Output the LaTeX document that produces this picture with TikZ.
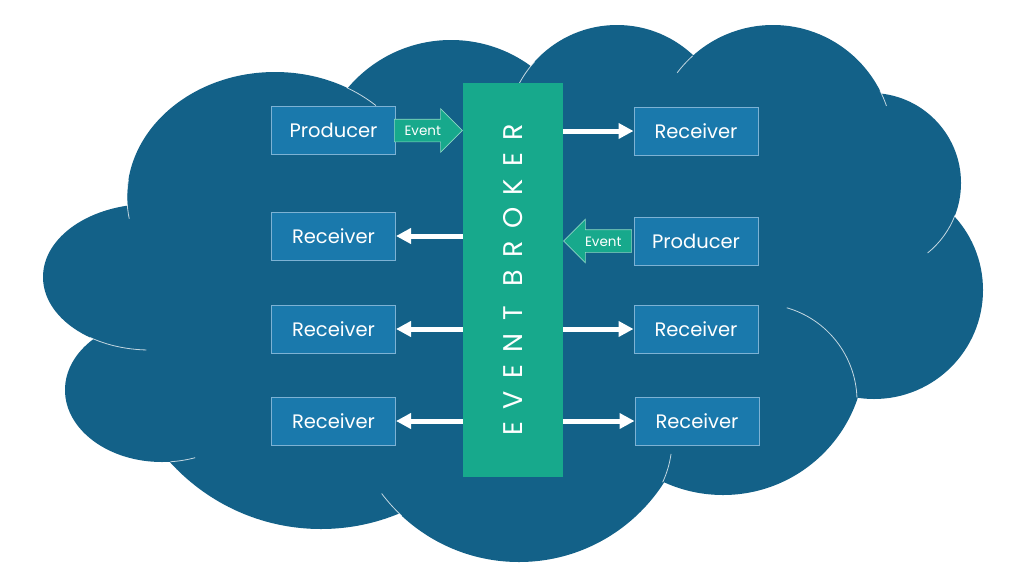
\documentclass[tikz,border=0pt]{standalone}
\usepackage{fontspec}
\setmainfont{Poppins}
\usetikzlibrary{calc,positioning,shapes.arrows,arrows.meta}

\definecolor{cloudblue}{RGB}{19,97,136}
\definecolor{boxblue}{RGB}{26,121,172}
\definecolor{boxedge}{RGB}{125,178,212}
\definecolor{brokergreen}{RGB}{23,169,140}
\definecolor{eventedge}{RGB}{140,215,195}

\begin{document}
\begin{tikzpicture}[
    x=1pt, y=-1pt,
    cloud/.style={fill=cloudblue},
    seam/.style={draw=white, line width=0.8pt, opacity=0.75},
    comp/.style={rectangle, fill=boxblue, draw=boxedge, line width=1pt,
      minimum width=124pt, minimum height=48pt, inner sep=0pt,
      text=white, font=\fontsize{19.5}{22}\selectfont},
    bar/.style={rectangle, fill=brokergreen, minimum width=100pt,
      minimum height=394pt, inner sep=0pt, text=white,
      font=\fontsize{27}{30}\selectfont},
    evt/.style={single arrow, fill=brokergreen, draw=eventedge, line width=0.6pt,
      minimum height=68pt, single arrow head extend=10.5pt,
      single arrow tip angle=90, inner xsep=2pt, inner ysep=6pt,
      text height=10pt, text depth=0pt, text=white, anchor=tip,
      font=\fontsize{13.5}{15}\selectfont},
    flow/.style={white, line width=5pt, -{Triangle[length=15pt, width=15pt]}}
  ]

  \useasboundingbox (0,0) rectangle (1024,576);
  \fill[white] (0,0) rectangle (1024,576);

  % the cloud: lobes round a filled core
  \fill[cloud] (275,197) -- (451,175) -- (617,136) -- (773,145) -- (871,183)
               -- (874,290) -- (723,353) -- (519,388) -- (321,325)
               -- (162,390) -- (150,277) -- cycle;
  \foreach \cx/\cy/\r in {451/175/135, 617/136/111, 773/145/120, 871/183/90,
                          874/290/109, 723/353/142, 519/390/172, 321/325/204}
    \fill[cloud] (\cx,\cy) circle[radius=\r];
  \foreach \cx/\cy/\rx/\ry in {275/197/148/125, 162/390/97/72, 150/277/107/73}
    \fill[cloud] (\cx,\cy) ellipse[x radius=\rx, y radius=\ry];

  % thin seams where the lobes overlap
  \foreach \cx/\cy/\r/\a/\b in {617/136/111/222/208, 773/145/120/228/217,
                                773/145/120/-27/-19, 871/183/90/21/51,
                                760/401/97/-74/-2, 572/440/100/8/25,
                                519/390/172/143/133}
    \draw[seam] ($(\cx,\cy)+(\a:\r)$) arc[start angle=\a, end angle=\b, radius=\r];
  \foreach \cx/\cy/\rx/\ry/\a/\b in {275/197/148/125/-61/-47, 275/197/148/125/188/170,
                                     162/390/97/72/85/70, 150/277/107/73/124/92}
    \draw[seam] ($(\cx,\cy)+({\rx*cos(\a)},{\ry*sin(\a)})$)
      arc[start angle=\a, end angle=\b, x radius=\rx, y radius=\ry];

  % the broker in the middle
  \node (broker) [bar] at (513,279.5)
    {\rotatebox{90}{\addfontfeatures{LetterSpace=46}EVENT BROKER}};

  % left column
  \node (prodl)  [comp] at (333.5,130.5) {Producer};
  \node (recvl2) [comp] at (333.5,236)   {Receiver};
  \node (recvl3) [comp] at (333.5,329)   {Receiver};
  \node (recvl4) [comp] at (333.5,421)   {Receiver};

  % right column
  \node (recvr1) [comp] at (696,131) {Receiver};
  \node (prodr)  [comp] at (696,241) {Producer};
  \node (recvr3) [comp] at (696,329) {Receiver};
  \node (recvr4) [comp] at (697,421) {Receiver};

  % events into the broker
  \node (evtl) [evt] at (prodl.east -| broker.west) {Event};
  \node (evtr) [evt, shape border rotate=180] at (prodr.west -| broker.east) {Event};

  % deliveries out of the broker
  \draw[flow] (broker.east |- recvr1) -- (recvr1.west);
  \draw[flow] (broker.west |- recvl2) -- (recvl2.east);
  \draw[flow] (broker.west |- recvl3) -- (recvl3.east);
  \draw[flow] (broker.east |- recvr3) -- (recvr3.west);
  \draw[flow] (broker.west |- recvl4) -- (recvl4.east);
  \draw[flow] (broker.east |- recvr4) -- (recvr4.west);

\end{tikzpicture}
\end{document}
